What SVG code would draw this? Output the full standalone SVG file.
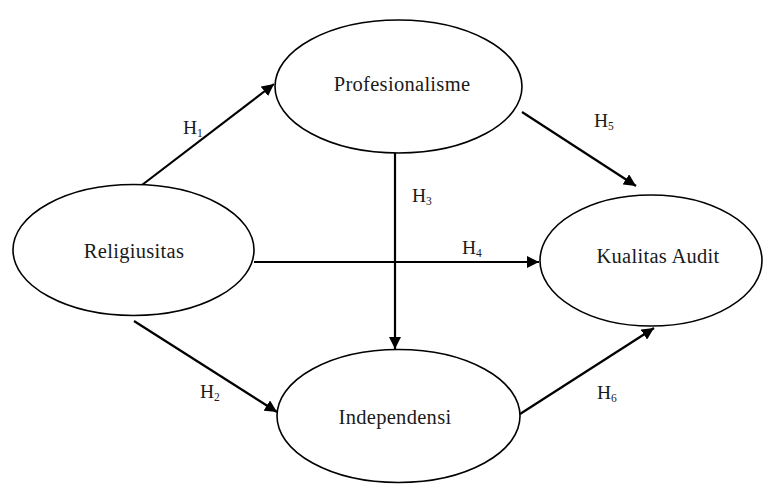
<svg xmlns="http://www.w3.org/2000/svg" width="769" height="485" viewBox="0 0 769 485">
<defs>
<style>
.node ellipse{fill:#fff;stroke:#000;stroke-width:1.6}
text{font-family:"Liberation Serif","DejaVu Serif",serif;font-size:20.5px;fill:#1a1a1a}
.node text{letter-spacing:0.3px}
.lbl{font-size:19.5px}
.sub{font-size:11.5px}
.edge line{stroke:#000;stroke-width:2.2}
</style>
<marker id="ah" viewBox="0 0 10 10" refX="10" refY="5" markerWidth="5.5" markerHeight="5.5" orient="auto" markerUnits="strokeWidth">
<path d="M0,0 L10,5 L0,10 z" fill="#000"/>
</marker>
</defs>
<g id="edges" class="edge">
<line x1="142" y1="185" x2="274" y2="84" marker-end="url(#ah)"/>
<line x1="134" y1="321" x2="277" y2="412" marker-end="url(#ah)"/>
<line x1="395" y1="153" x2="395" y2="349" marker-end="url(#ah)"/>
<line x1="254" y1="262" x2="539" y2="262" marker-end="url(#ah)"/>
<line x1="522" y1="112" x2="636" y2="186" marker-end="url(#ah)"/>
<line x1="520" y1="414" x2="654" y2="328" marker-end="url(#ah)"/>
</g>
<g id="labels">
<text class="lbl" x="183" y="134">H<tspan class="sub" dy="3">1</tspan></text>
<text class="lbl" x="200" y="398">H<tspan class="sub" dy="3">2</tspan></text>
<text class="lbl" x="412" y="202">H<tspan class="sub" dy="3">3</tspan></text>
<text class="lbl" x="462" y="254">H<tspan class="sub" dy="3">4</tspan></text>
<text class="lbl" x="594" y="127">H<tspan class="sub" dy="3">5</tspan></text>
<text class="lbl" x="597" y="399">H<tspan class="sub" dy="3">6</tspan></text>
</g>
<g id="religiusitas" class="node">
<ellipse cx="133.5" cy="250" rx="120.5" ry="65.5"/>
<text x="134" y="258" text-anchor="middle">Religiusitas</text>
</g>
<g id="profesionalisme" class="node">
<ellipse cx="398.5" cy="86.5" rx="123.5" ry="66.5"/>
<text x="402" y="91" text-anchor="middle">Profesionalisme</text>
</g>
<g id="kualitas" class="node">
<ellipse cx="651" cy="260.5" rx="111" ry="65.5"/>
<text x="658" y="263" text-anchor="middle">Kualitas Audit</text>
</g>
<g id="independensi" class="node">
<ellipse cx="398.5" cy="416" rx="121.5" ry="66.5"/>
<text x="395" y="424" text-anchor="middle">Independensi</text>
</g>
</svg>
